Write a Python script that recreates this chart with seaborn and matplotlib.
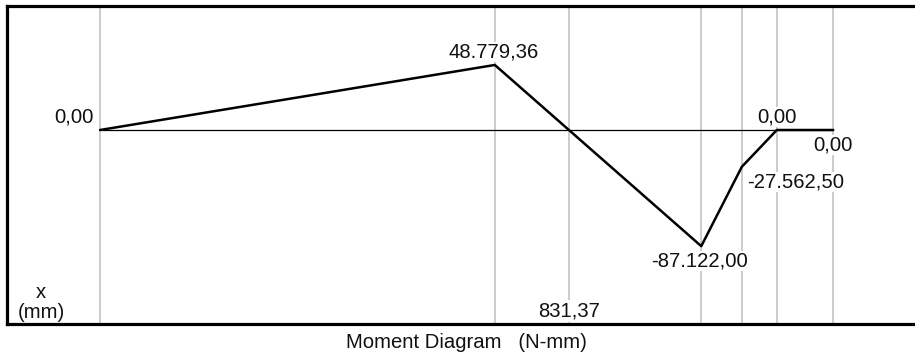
import matplotlib
matplotlib.use("Agg")
import matplotlib.pyplot as plt
import matplotlib.transforms as mtransforms
import numpy as np
import pandas as pd
import seaborn as sns

# Bending moment along the shaft (x in mm, M in N-mm)
x_mm = [0.0, 700.0, 1066.0, 1138.0, 1200.0, 1300.0]
moment = [0.0, 48779.36, -87122.00, -27562.50, 0.0, 0.0]
moment_labels = ["0,00", "48.779,36", "-87.122,00", "-27.562,50", "0,00", "0,00"]
zero_cross_x = 831.37
zero_cross_label = "831,37"

sns.set_theme(style="white")
plt.rcParams["font.family"] = ["Liberation Sans", "DejaVu Sans"]

W, H, DPI = 915, 356, 100
FS = 14.6
fig = plt.figure(figsize=(W / DPI, H / DPI), dpi=DPI)
fig.patch.set_facecolor("white")

# axes box in pixel space
left_px, right_px, top_px, bottom_px = 7, 915, 5.5, 323.5
ax = fig.add_axes([left_px / W, 1 - bottom_px / H,
                   (right_px - left_px) / W, (bottom_px - top_px) / H])
ax.set_facecolor("white")

ax.set_xlim(-165, 1445)
ax.set_ylim(-145125, 93375)

# vertical reference lines at the section points
for xv in [0.0, 700.0, zero_cross_x, 1066.0, 1138.0, 1200.0, 1300.0]:
    ax.axvline(xv, color="#c4c4c4", lw=1.2, zorder=1)

# baseline
ax.plot([x_mm[0], x_mm[-1]], [0, 0], color="black", lw=0.9, zorder=2)

df = pd.DataFrame({"x": x_mm, "M": moment})
sns.lineplot(data=df, x="x", y="M", color="black", lw=1.8, sort=False,
             estimator=None, ax=ax, zorder=3)

label_box = dict(facecolor="white", edgecolor="none", pad=0.5)

# value labels (offsets in pixels)
offsets = [(-6, 13, "right"), (-1, 13, "center"), (-2, -15, "center"),
           (5, -15, "left"), (0, 13, "center"), (0, -15, "center")]
for xv, yv, lab, (dx, dy, ha) in zip(x_mm, moment, moment_labels, offsets):
    ax.annotate(lab, (xv, yv), xytext=(dx, dy), textcoords="offset pixels",
                ha=ha, va="center", fontsize=FS, color="#111111", zorder=5,
                bbox=label_box)

trans = mtransforms.blended_transform_factory(ax.transData, ax.transAxes)
ax.text(zero_cross_x, (bottom_px - 311) / (bottom_px - top_px), zero_cross_label,
        transform=trans, ha="center", va="center", fontsize=FS, color="#111111",
        bbox=dict(facecolor="white", edgecolor="none", pad=1.0), zorder=5)

fig.text(41 / W, 1 - 292 / H, "x", ha="center", va="center", fontsize=FS,
         color="#111111")
fig.text(41 / W, 1 - 312 / H, "(mm)", ha="center", va="center", fontsize=FS,
         color="#111111")
fig.text(466 / W, 1 - 342 / H, "Moment Diagram   (N-mm)", ha="center",
         va="center", fontsize=FS, color="#111111")

ax.set_xlabel("")
ax.set_ylabel("")
ax.set_xticks([])
ax.set_yticks([])
for side in ["left", "top", "bottom"]:
    ax.spines[side].set_color("black")
    ax.spines[side].set_linewidth(2.3)
    ax.spines[side].set_visible(True)
ax.spines["right"].set_visible(False)

fig.savefig("out.png", dpi=DPI, facecolor="white")
